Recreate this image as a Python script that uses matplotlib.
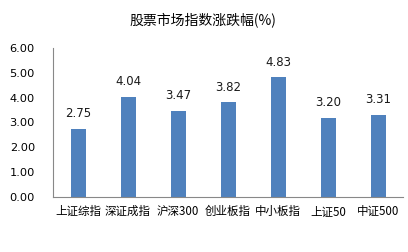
import matplotlib
matplotlib.use("Agg")
import matplotlib.pyplot as plt
import numpy as np

plt.rcParams['font.family'] = ['Noto Sans CJK SC', 'DejaVu Sans']

categories = ["上证综指", "深证成指", "沪深300", "创业板指", "中小板指", "上证50", "中证500"]
values = [2.75, 4.04, 3.47, 3.82, 4.83, 3.20, 3.31]
yticks = [0, 1, 2, 3, 4, 5, 6]

fig = plt.figure(figsize=(4.08, 2.52), dpi=100)
ax = fig.add_axes([53/408, 1 - 197/252, (403-53)/408, (197-48)/252])

x = np.arange(len(categories))
ax.bar(x, values, width=0.3, color="#4F81BD")
for xi, v in zip(x, values):
    ax.annotate("%.2f" % v, (xi, v), xytext=(0, 6), textcoords="offset points",
                ha="center", va="bottom", fontsize=8.5, family="DejaVu Sans", color="#1a1a1a")

ax.set_xlim(-0.5, len(categories) - 0.5)
ax.set_ylim(0, 6)
ax.set_yticks(yticks)
ax.set_yticklabels(["%.2f" % t for t in yticks], fontsize=8.2, family="DejaVu Sans")
ax.set_xticks(x)
ax.set_xticklabels(categories, fontsize=8.3)
ax.tick_params(axis="y", length=0, pad=13)
ax.tick_params(axis="x", length=0, pad=6)
for s in ["top", "right"]:
    ax.spines[s].set_visible(False)
for s in ["left", "bottom"]:
    ax.spines[s].set_color("#888888")
    ax.spines[s].set_linewidth(0.8)

fig.text(203/408, 1 - 20/252, "股票市场指数涨跌幅(%)", ha="center", va="center", fontsize=10)

fig.savefig("out.png", dpi=100)
